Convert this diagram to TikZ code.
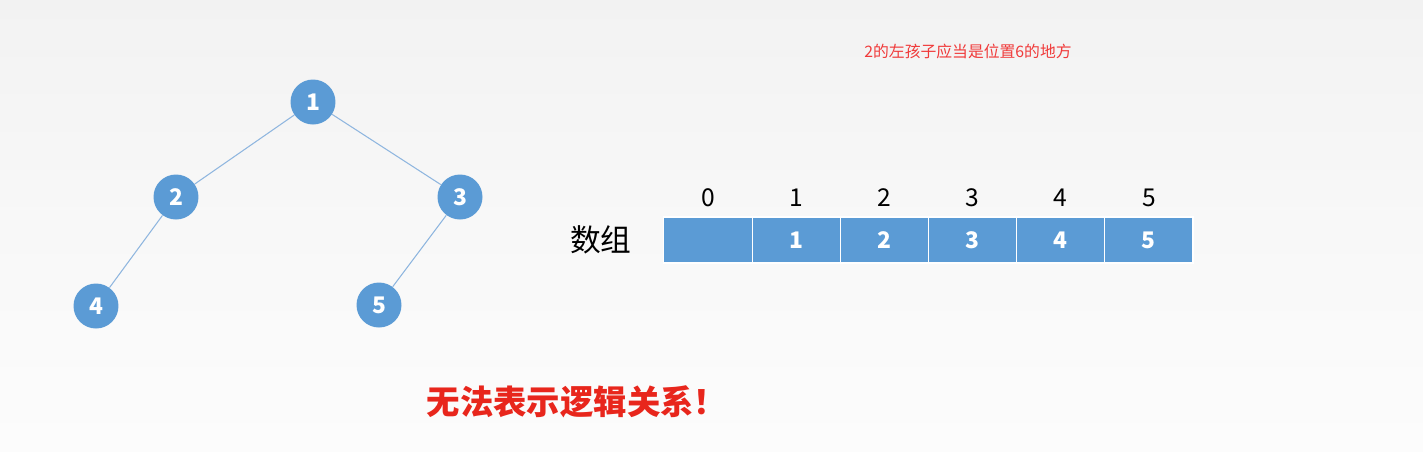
\documentclass[tikz,border=0pt]{standalone}
\usepackage{fontspec}
\setmainfont{Noto Sans CJK SC}
\usetikzlibrary{positioning}
\definecolor{nodeblue}{HTML}{5B9BD5}
\definecolor{edgeblue}{HTML}{8FB6DF}
\definecolor{notered}{HTML}{F03A3A}
\definecolor{warnred}{HTML}{E8261C}
\definecolor{bgtop}{HTML}{F2F2F2}
\definecolor{bgbot}{HTML}{FCFCFC}
\tikzset{
  treenode/.style={
    circle, fill=nodeblue, minimum size=0.9cm, inner sep=0pt,
    text=white, font=\fontsize{13}{15}\selectfont\bfseries
  },
  treeedge/.style={draw=edgeblue, line width=0.6pt},
  cell/.style={
    draw=white, line width=0.6pt, fill=nodeblue, outer sep=0pt,
    minimum width=1.764cm, minimum height=0.92cm, inner sep=0pt,
    text=white, font=\fontsize{13}{15}\selectfont\bfseries
  },
  index/.style={font=\fontsize{14}{16}\selectfont, text=black}
}
\begin{document}
\begin{tikzpicture}[x=0.02cm, y=-0.02cm]
  % background
  \shade[top color=bgtop, bottom color=bgbot, middle color=bgbot!60!bgtop]
    (0,0) rectangle (1423,451);
  \useasboundingbox (0,0) rectangle (1423,451);

  % tree
  \node[treenode] (n1) at (313,102) {1};
  \node[treenode] (n2) at (176,197) {2};
  \node[treenode] (n3) at (460,197) {3};
  \node[treenode] (n4) at (96,306) {4};
  \node[treenode] (n5) at (379,305) {5};
  \draw[treeedge] (n1) -- (n2);
  \draw[treeedge] (n1) -- (n3);
  \draw[treeedge] (n2) -- (n4);
  \draw[treeedge] (n3) -- (n5);

  % array
  \node[cell] (c0) at (708,240) {};
  \node[cell, right=0pt of c0] (c1) {1};
  \node[cell, right=0pt of c1] (c2) {2};
  \node[cell, right=0pt of c2] (c3) {3};
  \node[cell, right=0pt of c3] (c4) {4};
  \node[cell, right=0pt of c4] (c5) {5};
  \foreach \i in {0,...,5}
    \node[index, above=0.08cm of c\i] (i\i) {\i};
  \node[font=\fontsize{17.5}{19}\selectfont, left=0.52cm of c0] (arr) {数组};

  % notes
  \node[font=\fontsize{9}{11}\selectfont, text=notered] (note) at (968,51)
    {2的左孩子应当是位置6的地方};
  \node[font=\fontsize{19}{21}\selectfont\bfseries, text=warnred] (warn) at (577,402)
    {无法表示逻辑关系！};
\end{tikzpicture}
\end{document}
